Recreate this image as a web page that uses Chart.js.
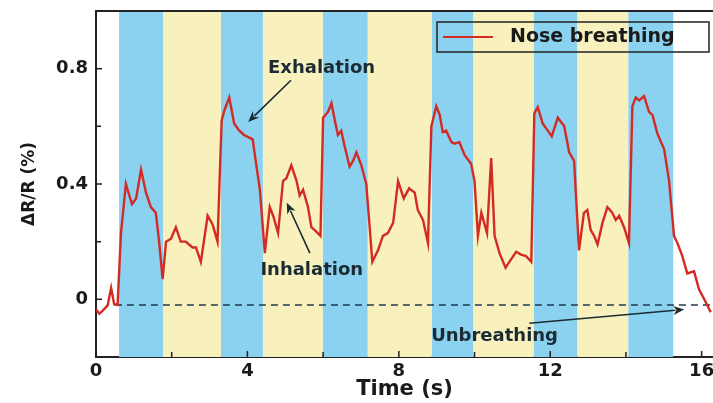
<!DOCTYPE html>
<html>
<head>
<meta charset="utf-8">
<script src="https://cdn.jsdelivr.net/npm/chart.js@4.4.0/dist/chart.umd.min.js"></script>
<style>
  html, body { margin: 0; padding: 0; background: #ffffff; }
  #wrap { width: 713px; height: 403px; position: relative; }
</style>
</head>
<body>
<div id="wrap"><canvas id="breathChart"></canvas></div>
<script>
// time axis (s) and sensor response (%)
const times = [0, 0.09, 0.21, 0.31, 0.40, 0.48, 0.57, 0.66, 0.79, 0.88, 0.95, 1.06, 1.19, 1.32, 1.45, 1.58, 1.66, 1.76,
  1.85, 1.98, 2.11, 2.24, 2.37, 2.55, 2.64, 2.77, 2.95, 3.08, 3.21, 3.32, 3.39, 3.52, 3.65, 3.78, 3.91, 4.14, 4.23, 4.33,
  4.46, 4.59, 4.68, 4.81, 4.94, 5.03, 5.16, 5.30, 5.38, 5.47, 5.60, 5.69, 5.82, 5.93, 6.00, 6.13, 6.22, 6.31, 6.39, 6.48,
  6.57, 6.70, 6.79, 6.88, 7.01, 7.14, 7.23, 7.30, 7.45, 7.58, 7.71, 7.85, 7.98, 8.13, 8.27, 8.42, 8.50, 8.64, 8.77, 8.86,
  8.99, 9.08, 9.16, 9.25, 9.39, 9.47, 9.60, 9.74, 9.91, 10.00, 10.09, 10.18, 10.33, 10.44, 10.53, 10.66, 10.82, 10.92,
  11.10, 11.23, 11.36, 11.50, 11.58, 11.67, 11.80, 11.93, 12.04, 12.20, 12.37, 12.50, 12.63, 12.76, 12.89, 12.98, 13.07,
  13.16, 13.25, 13.38, 13.51, 13.64, 13.73, 13.82, 13.95, 14.08, 14.17, 14.26, 14.35, 14.48, 14.61, 14.70, 14.83, 15.01,
  15.14, 15.27, 15.36, 15.49, 15.62, 15.80, 15.93, 16.11, 16.24];
const noseBreathing = [-0.034, -0.05, -0.035, -0.02, 0.04, -0.017, -0.02, 0.23, 0.40, 0.36, 0.33, 0.35, 0.45, 0.37, 0.32, 0.30, 0.21, 0.07,
  0.20, 0.21, 0.25, 0.20, 0.20, 0.18, 0.18, 0.13, 0.29, 0.26, 0.20, 0.62, 0.655, 0.70, 0.61, 0.586, 0.57, 0.555, 0.47, 0.38,
  0.16, 0.32, 0.29, 0.23, 0.41, 0.42, 0.465, 0.41, 0.36, 0.38, 0.32, 0.25, 0.235, 0.22, 0.63, 0.65, 0.68, 0.62, 0.57, 0.585,
  0.53, 0.46, 0.48, 0.51, 0.465, 0.40, 0.25, 0.13, 0.17, 0.22, 0.23, 0.265, 0.41, 0.35, 0.385, 0.37, 0.31, 0.275, 0.195, 0.60,
  0.67, 0.64, 0.58, 0.585, 0.545, 0.54, 0.545, 0.50, 0.47, 0.41, 0.22, 0.30, 0.23, 0.49, 0.22, 0.16, 0.11, 0.13,
  0.165, 0.155, 0.15, 0.13, 0.645, 0.667, 0.61, 0.586, 0.565, 0.63, 0.60, 0.51, 0.48, 0.17, 0.30, 0.31, 0.24,
  0.22, 0.19, 0.265, 0.32, 0.30, 0.275, 0.29, 0.25, 0.195, 0.67, 0.70, 0.69, 0.705, 0.65, 0.64, 0.575, 0.52,
  0.41, 0.22, 0.195, 0.15, 0.09, 0.097, 0.035, -0.01, -0.045];

// breathing phases: start/end times
const exhaleStarts = [0.61, 3.30, 5.99, 8.87, 11.56, 14.06];
const exhaleEnds   = [1.77, 4.41, 7.18, 9.97, 12.72, 15.25];
const inhaleStarts = [1.77, 4.41, 7.18, 9.97, 12.72];
const inhaleEnds   = [3.30, 5.99, 8.87, 11.56, 14.06];

// baseline (unbreathing)
const baselineX = [0.5, 16.3];
const baselineY = [-0.02, -0.02];

const xTicks = [0, 4, 8, 12, 16];
const xMinorTicks = [2, 6, 10, 14];
const yTicks = [0, 0.4, 0.8];
const yTickLabels = ['0', '0.4', '0.8'];
const yMinorTicks = [0.2, 0.6];

// annotations: [text, textX, textY, arrowFromX, arrowFromY, arrowToX, arrowToY]
const notes = [
  ['Exhalation', 5.96, 0.80, 5.15, 0.76, 4.02, 0.615],
  ['Inhalation', 5.70, 0.10, 5.65, 0.16, 5.04, 0.335],
  ['Unbreathing', 10.53, -0.13, 11.45, -0.083, 15.54, -0.035]
];

const FONT = '"DejaVu Sans", Verdana, sans-serif';

const bandsPlugin = {
  id: 'bands',
  beforeDatasetsDraw(chart) {
    const {ctx, chartArea, scales: {x}} = chart;
    ctx.save();
    ctx.beginPath();
    ctx.rect(chartArea.left, chartArea.top, chartArea.width, chartArea.height);
    ctx.clip();
    ctx.fillStyle = '#8bd2f1';
    exhaleStarts.forEach(function(s, i) {
      const x0 = x.getPixelForValue(s), x1 = x.getPixelForValue(exhaleEnds[i]);
      ctx.fillRect(x0, chartArea.top, x1 - x0, chartArea.height);
    });
    ctx.fillStyle = '#f8f1bd';
    inhaleStarts.forEach(function(s, i) {
      const x0 = x.getPixelForValue(s), x1 = x.getPixelForValue(inhaleEnds[i]);
      ctx.fillRect(x0, chartArea.top, x1 - x0, chartArea.height);
    });
    ctx.restore();
  }
};

function arrow(ctx, x0, y0, x1, y1) {
  const a = Math.atan2(y1 - y0, x1 - x0);
  const len = 11, w = 4.5;
  ctx.beginPath();
  ctx.moveTo(x0, y0);
  ctx.lineTo(x1 - Math.cos(a) * len * 0.8, y1 - Math.sin(a) * len * 0.8);
  ctx.stroke();
  ctx.beginPath();
  ctx.moveTo(x1, y1);
  ctx.lineTo(x1 - Math.cos(a) * len - Math.sin(a) * w, y1 - Math.sin(a) * len + Math.cos(a) * w);
  ctx.lineTo(x1 - Math.cos(a) * len * 0.7, y1 - Math.sin(a) * len * 0.7);
  ctx.lineTo(x1 - Math.cos(a) * len + Math.sin(a) * w, y1 - Math.sin(a) * len - Math.cos(a) * w);
  ctx.closePath();
  ctx.fill();
}

const overlayPlugin = {
  id: 'overlay',
  afterDraw(chart) {
    const {ctx, chartArea, scales: {x, y}} = chart;
    ctx.save();
    // top frame
    ctx.strokeStyle = '#222';
    ctx.lineWidth = 2;
    ctx.beginPath();
    ctx.moveTo(chartArea.left, chartArea.top);
    ctx.lineTo(chartArea.right, chartArea.top);
    ctx.stroke();
    // inward ticks
    ctx.lineWidth = 1.5;
    ctx.beginPath();
    xTicks.concat(xMinorTicks).forEach(function(v) {
      const px = x.getPixelForValue(v);
      const l = xTicks.includes(v) ? 6 : 5;
      ctx.moveTo(px, chartArea.bottom);
      ctx.lineTo(px, chartArea.bottom - l);
    });
    yTicks.concat(yMinorTicks).forEach(function(v) {
      const py = y.getPixelForValue(v);
      const l = yTicks.includes(v) ? 6 : 5;
      ctx.moveTo(chartArea.left, py);
      ctx.lineTo(chartArea.left + l, py);
    });
    ctx.stroke();

    // annotations
    ctx.fillStyle = '#1c2b33';
    ctx.strokeStyle = '#1c2b33';
    ctx.lineWidth = 1.6;
    ctx.font = 'bold 18px ' + FONT;
    ctx.textAlign = 'center';
    ctx.textBaseline = 'middle';
    notes.forEach(function(n) {
      ctx.fillText(n[0], x.getPixelForValue(n[1]), y.getPixelForValue(n[2]));
      arrow(ctx, x.getPixelForValue(n[3]), y.getPixelForValue(n[4]),
            x.getPixelForValue(n[5]), y.getPixelForValue(n[6]));
    });

    // legend box
    const ds = chart.data.datasets[0];
    ctx.strokeStyle = '#222';
    ctx.lineWidth = 1.5;
    ctx.strokeRect(437, 22, 272, 30);
    ctx.strokeStyle = ds.borderColor;
    ctx.lineWidth = 2;
    ctx.beginPath();
    ctx.moveTo(443, 37);
    ctx.lineTo(493, 37);
    ctx.stroke();
    ctx.fillStyle = '#1a1a1a';
    ctx.textAlign = 'left';
    ctx.font = 'bold 19px ' + FONT;
    ctx.fillText(ds.label, 510, 37);
    ctx.restore();
  }
};

const config = {
  type: 'line',
  data: {
    datasets: [{
      label: 'Nose breathing',
      data: times.map(function(t, i) { return {x: t, y: noseBreathing[i]}; }),
      borderColor: '#d42a24',
      borderWidth: 2.4,
      pointRadius: 0,
      tension: 0
    }, {
      label: 'Unbreathing',
      data: baselineX.map(function(t, i) { return {x: t, y: baselineY[i]}; }),
      borderColor: '#1f3a52',
      borderWidth: 1.5,
      borderDash: [7, 5],
      pointRadius: 0
    }]
  },
  options: {
    responsive: true,
    maintainAspectRatio: false,
    animation: false,
    layout: { padding: { top: 11, right: 0, left: 0, bottom: 0 } },
    scales: {
      x: {
        type: 'linear',
        min: 0,
        max: 16.3,
        afterBuildTicks: function(scale) { scale.ticks = xTicks.map(function(v) { return {value: v}; }); },
        afterFit: function(scale) {
          scale.height = 46;
          scale.paddingLeft = 0;
          scale.paddingRight = 0;
        },
        grid: { display: false, drawTicks: false },
        border: { display: true, color: '#222', width: 2 },
        ticks: {
          padding: 4,
          color: '#1a1a1a',
          font: { family: FONT, size: 18, weight: 'bold' },
          maxRotation: 0
        },
        title: {
          display: true,
          text: 'Time (s)',
          color: '#1a1a1a',
          font: { family: FONT, size: 21, weight: 'bold' },
          padding: { top: 0, bottom: 1 }
        }
      },
      y: {
        min: -0.2,
        max: 1.0,
        afterBuildTicks: function(scale) { scale.ticks = yTicks.map(function(v) { return {value: v}; }); },
        afterFit: function(scale) {
          scale.width = 96;
          scale.paddingTop = 0;
          scale.paddingBottom = 0;
        },
        grid: { display: false, drawTicks: false },
        border: { display: true, color: '#222', width: 2 },
        ticks: {
          padding: 8,
          color: '#1a1a1a',
          font: { family: FONT, size: 18, weight: 'bold' },
          callback: function(value, index) { return yTickLabels[index]; }
        },
        title: {
          display: true,
          text: 'ΔR/R (%)',
          color: '#1a1a1a',
          font: { family: FONT, size: 17, weight: 'bold' },
          padding: { top: 19, bottom: 0 }
        }
      }
    },
    plugins: {
      legend: { display: false },
      tooltip: { enabled: false }
    }
  },
  plugins: [bandsPlugin, overlayPlugin]
};

const ctx = document.getElementById('breathChart').getContext('2d');
new Chart(ctx, config);
</script>
</body>
</html>
